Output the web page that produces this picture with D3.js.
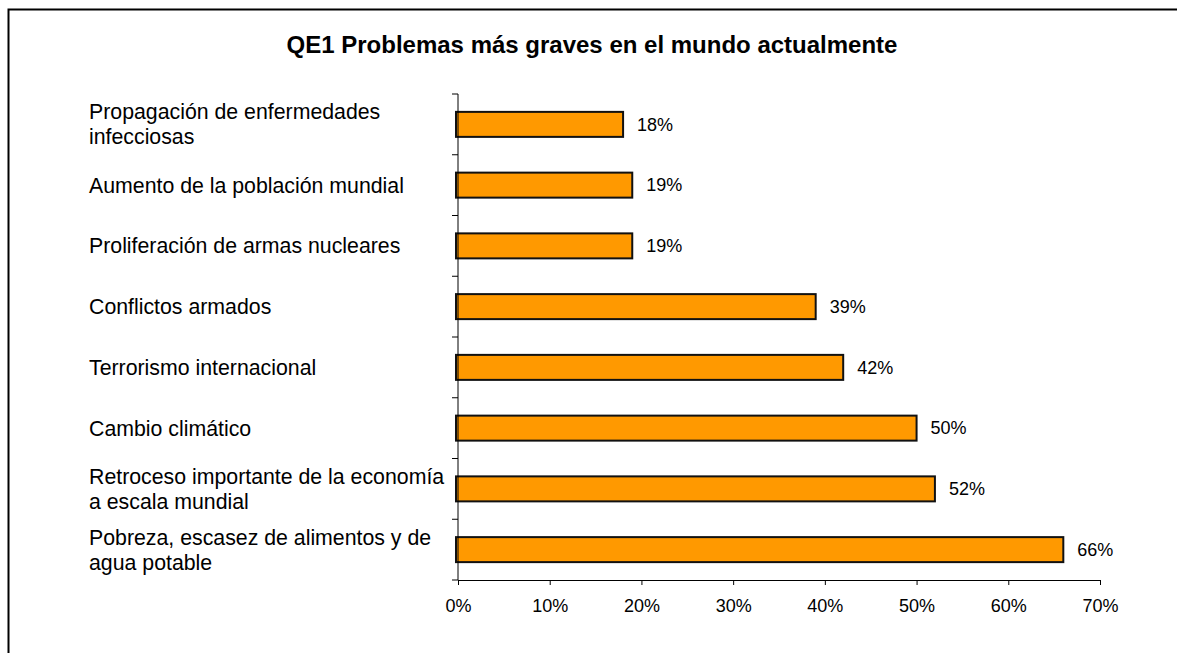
<!DOCTYPE html>
<html>
<head>
<meta charset="utf-8">
<script src="https://cdn.jsdelivr.net/npm/d3@7"></script>
<style>
  html, body { margin: 0; padding: 0; background: #fff; }
  svg { display: block; font-family: "Liberation Sans", Arial, sans-serif; }
</style>
</head>
<body>
<svg id="chart" width="1177" height="653"></svg>
<script>
const title = "QE1 Problemas más graves en el mundo actualmente";
const categories = [
  ["Propagación de enfermedades", "infecciosas"],
  ["Aumento de la población mundial"],
  ["Proliferación de armas nucleares"],
  ["Conflictos armados"],
  ["Terrorismo internacional"],
  ["Cambio climático"],
  ["Retroceso importante de la economía", "a escala mundial"],
  ["Pobreza, escasez de alimentos y de", "agua potable"]
];
const values = [18, 19, 19, 39, 42, 50, 52, 66];
const xTicks = [0, 10, 20, 30, 40, 50, 60, 70];

const svg = d3.select("#chart");

// outer frame (top and left edges visible)
svg.append("rect")
  .attr("x", 8.5).attr("y", 9.5)
  .attr("width", 1200).attr("height", 700)
  .attr("fill", "none").attr("stroke", "#000").attr("stroke-width", 2);

svg.append("text")
  .attr("x", 592).attr("y", 53)
  .attr("text-anchor", "middle")
  .attr("font-weight", "bold")
  .attr("font-size", 24)
  .attr("fill", "#000")
  .text(title);

const x = d3.scaleLinear().domain([0, 70]).range([458, 1100]);
const y = d3.scaleBand().domain(d3.range(categories.length)).range([94, 580]).paddingInner(0).paddingOuter(0);

const barH = 25;

// bars
svg.append("g").selectAll("rect")
  .data(values)
  .join("rect")
  .attr("x", x(0) - 2)
  .attr("y", (d, i) => y(i) + y.bandwidth() / 2 - barH / 2)
  .attr("width", d => x(d) - x(0) + 2)
  .attr("height", barH)
  .attr("fill", "#FF9900")
  .attr("stroke", "#111")
  .attr("stroke-width", 2);

// y axis
const gy = svg.append("g").attr("transform", `translate(${x(0)},0)`);
gy.append("path").attr("fill", "none").attr("stroke", "#000")
  .attr("d", `M0,${y.range()[0]}V${y.range()[1]}`);
const yBoundaries = d3.range(categories.length + 1).map(i => y.range()[0] + i * y.step());
gy.selectAll("line.bt").data(yBoundaries).join("line")
  .attr("class", "bt")
  .attr("x1", -6).attr("x2", 0)
  .attr("y1", d => d).attr("y2", d => d)
  .attr("stroke", "#000");

// x axis
const xAxis = d3.axisBottom(x).tickValues(xTicks).tickSize(5).tickSizeOuter(0)
  .tickFormat(d => d + "%").tickPadding(14);
const gx = svg.append("g").attr("transform", `translate(0,580)`).call(xAxis);
gx.select(".domain").attr("stroke", "#000");
gx.selectAll(".tick line").attr("stroke", "#000");
gx.selectAll(".tick text").attr("font-size", 18).attr("fill", "#000")
  .attr("font-family", "'Liberation Sans', Arial, sans-serif");

// value labels
svg.append("g").selectAll("text")
  .data(values)
  .join("text")
  .attr("x", d => x(d) + 14)
  .attr("y", (d, i) => y(i) + y.bandwidth() / 2)
  .attr("dy", "0.35em")
  .attr("font-size", 18)
  .attr("fill", "#000")
  .text(d => d + "%");

// category labels
const catG = svg.append("g");
categories.forEach((lines, i) => {
  const cy = y(i) + y.bandwidth() / 2;
  const lh = 25;
  const t = catG.append("text")
    .attr("font-size", 21.3)
    .attr("fill", "#000");
  lines.forEach((ln, j) => {
    t.append("tspan")
      .attr("x", 89)
      .attr("y", cy + (j - (lines.length - 1) / 2) * lh)
      .attr("dy", "0.35em")
      .text(ln);
  });
});
</script>
</body>
</html>
